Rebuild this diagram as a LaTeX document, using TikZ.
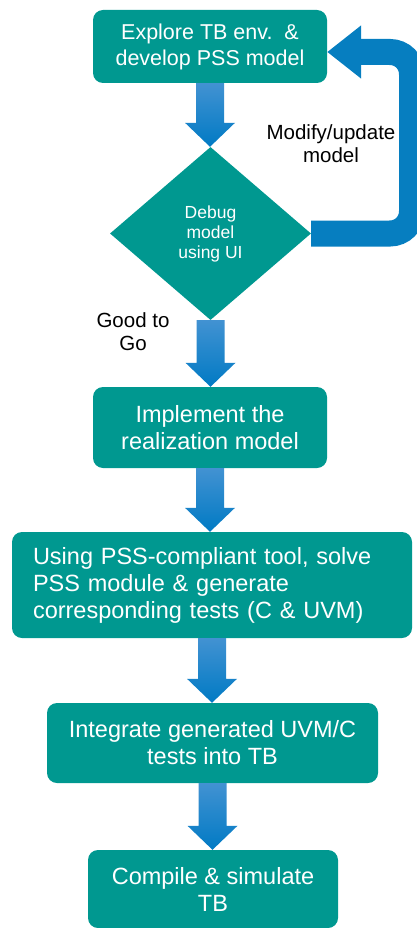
\documentclass[tikz,border=0pt]{standalone}
\usepackage{fontspec}
\setmainfont{Liberation Sans}
\usepackage{xcolor}
\usetikzlibrary{arrows.meta,shapes,calc}

\definecolor{boxteal}{RGB}{0,152,144}
\definecolor{loopblue}{RGB}{6,126,192}
\definecolor{arrtop}{RGB}{66,146,210}
\definecolor{arrbot}{RGB}{0,122,196}

% fat shaded down arrow from the bottom of one node to the top of the next
\newcommand{\flowarrow}[2]{%
\shade[top color=arrtop,bottom color=arrbot]
 let \p1=(#1.south),\p2=(#2.north) in
 (\x1-14pt,\y1)--(\x1+14pt,\y1)--(\x1+14pt,\y2+24pt)--(\x1+25pt,\y2+24pt)
 --(\x1,\y2)--(\x1-25pt,\y2+24pt)--(\x1-14pt,\y2+24pt)--cycle;}

\begin{document}
\begin{tikzpicture}[x=1pt,y=-1pt,
 box/.style={fill=boxteal,rounded corners=10pt,text=white,inner sep=0pt,
  font=\fontsize{23.5}{27}\selectfont,align=center},
 note/.style={font=\fontsize{20.5}{23}\selectfont,align=center}]
\useasboundingbox (0,0) rectangle (417,928);

% steps
\node[box,minimum width=234pt,minimum height=73pt,font=\fontsize{21.5}{26}\selectfont](explore)at(210,46.5){Explore TB env.\ \ \&\\develop PSS model};
\node[diamond,fill=boxteal,text=white,inner sep=0pt,minimum width=201pt,minimum height=173pt,
 font=\fontsize{17.5}{20}\selectfont,align=center](debug)at(210.5,233.5){Debug\\model\\using UI};
\node[box,minimum width=234pt,minimum height=81pt](impl)at(210,427.5){Implement the\\realization model};
\node[box,text width=358pt,inner xsep=21pt,minimum height=106pt,align=left](solve)at(212,585){Using PSS-compliant tool, solve\\PSS module \& generate\\corresponding tests (C \& UVM)};
\node[box,minimum width=331pt,minimum height=80pt](integ)at(212.5,743){Integrate generated UVM/C\\tests into TB};
\node[box,minimum width=250pt,minimum height=78pt](sim)at(213,889){Compile \& simulate\\TB};

% arrows
\flowarrow{explore}{debug}
\flowarrow{debug}{impl}
\flowarrow{impl}{solve}
\flowarrow{solve}{integ}
\flowarrow{integ}{sim}

% loop back
\coordinate(turn)at(412,52);
\draw[loopblue,line width=26pt,rounded corners=22pt,-{Triangle[width=51pt,length=34pt]}]
 (debug.east)-|(turn)--(turn-|explore.east);

\node[note](modify)at(331,144){Modify/update\\model};
\node[note](good)at(133,331.5){Good to\\Go};
\end{tikzpicture}
\end{document}
